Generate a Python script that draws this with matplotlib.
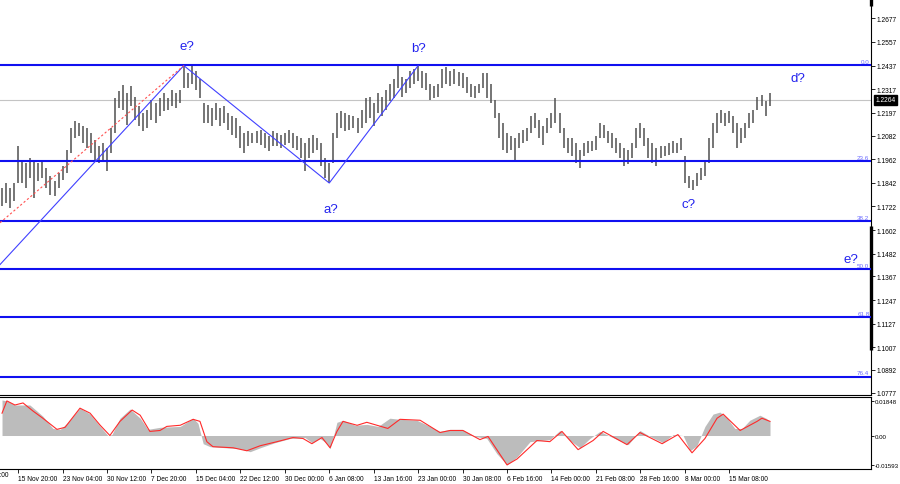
import numpy as np
import matplotlib
matplotlib.use("Agg")
import matplotlib.pyplot as plt

# H4 bars, high / low
bar_high = [1.1816, 1.1841, 1.1816, 1.1841, 1.2028, 1.1952, 1.1942, 1.1967, 1.1957, 1.1942,
            1.1952, 1.1917, 1.1876, 1.1851, 1.1892, 1.1927, 1.2008, 1.2119, 1.2154, 1.2144,
            1.2129, 1.2119, 1.2094, 1.2058, 1.2028, 1.2043, 1.2018, 1.2119, 1.2270, 1.2306,
            1.2336, 1.2296, 1.2331, 1.2280, 1.2230, 1.2195, 1.2210, 1.2260, 1.2245, 1.2270,
            1.2296, 1.2270, 1.2311, 1.2296, 1.2311, 1.2437, 1.2397, 1.2437, 1.2412, 1.2371,
            1.2245, 1.2235, 1.2220, 1.2245, 1.2220, 1.2230, 1.2195, 1.2179, 1.2169, 1.2129,
            1.2094, 1.2104, 1.2094, 1.2104, 1.2109, 1.2094, 1.2078, 1.2104, 1.2094, 1.2083,
            1.2094, 1.2109, 1.2094, 1.2078, 1.2068, 1.2043, 1.2068, 1.2083, 1.2068, 1.2043,
            1.1967, 1.1942, 1.2094, 1.2195, 1.2205, 1.2195, 1.2185, 1.2179, 1.2169, 1.2210,
            1.2270, 1.2280, 1.2245, 1.2296, 1.2280, 1.2311, 1.2346, 1.2371, 1.2437, 1.2381,
            1.2371, 1.2412, 1.2422, 1.2437, 1.2412, 1.2397, 1.2346, 1.2331, 1.2346, 1.2422,
            1.2432, 1.2412, 1.2422, 1.2407, 1.2397, 1.2381, 1.2346, 1.2331, 1.2346, 1.2397,
            1.2397, 1.2346, 1.2260, 1.2195, 1.2144, 1.2094, 1.2078, 1.2068, 1.2094, 1.2109,
            1.2119, 1.2179, 1.2195, 1.2159, 1.2129, 1.2169, 1.2195, 1.2270, 1.2195, 1.2119,
            1.2068, 1.2068, 1.2043, 1.2008, 1.2043, 1.2053, 1.2053, 1.2078, 1.2144, 1.2134,
            1.2104, 1.2094, 1.2068, 1.2043, 1.2018, 1.2008, 1.2043, 1.2119, 1.2144, 1.2119,
            1.2068, 1.2043, 1.2018, 1.2028, 1.2028, 1.2043, 1.2053, 1.2043, 1.2068, 1.1977,
            1.1876, 1.1856, 1.1892, 1.1917, 1.1952, 1.2068, 1.2144, 1.2195, 1.2210, 1.2195,
            1.2205, 1.2179, 1.2144, 1.2119, 1.2144, 1.2195, 1.2210, 1.2280, 1.2286, 1.2255,
            1.2296]
bar_low = [1.1725, 1.1740, 1.1715, 1.1750, 1.1841, 1.1841, 1.1816, 1.1866, 1.1765, 1.1851,
           1.1866, 1.1816, 1.1780, 1.1775, 1.1816, 1.1856, 1.1892, 1.1993, 1.2068, 1.2078,
           1.2043, 1.2018, 1.1993, 1.1957, 1.1942, 1.1957, 1.1902, 1.1993, 1.2094, 1.2220,
           1.2210, 1.2134, 1.2230, 1.2159, 1.2129, 1.2104, 1.2119, 1.2159, 1.2144, 1.2179,
           1.2205, 1.2210, 1.2230, 1.2220, 1.2245, 1.2321, 1.2321, 1.2346, 1.2311, 1.2270,
           1.2144, 1.2144, 1.2129, 1.2159, 1.2129, 1.2144, 1.2109, 1.2083, 1.2068, 1.2018,
           1.1993, 1.2028, 1.2043, 1.2043, 1.2033, 1.2018, 1.2003, 1.2028, 1.2028, 1.2018,
           1.2033, 1.2043, 1.2018, 1.2008, 1.1967, 1.1902, 1.1967, 1.1993, 1.2008, 1.1927,
           1.1866, 1.1841, 1.1942, 1.2068, 1.2119, 1.2104, 1.2109, 1.2119, 1.2094, 1.2119,
           1.2144, 1.2169, 1.2129, 1.2195, 1.2179, 1.2210, 1.2255, 1.2270, 1.2321, 1.2280,
           1.2296, 1.2321, 1.2346, 1.2361, 1.2321, 1.2311, 1.2260, 1.2270, 1.2280, 1.2321,
           1.2346, 1.2331, 1.2346, 1.2331, 1.2321, 1.2296, 1.2280, 1.2270, 1.2296, 1.2321,
           1.2270, 1.2245, 1.2169, 1.2068, 1.2008, 1.1993, 1.2008, 1.1957, 1.2018, 1.2043,
           1.2053, 1.2094, 1.2119, 1.2068, 1.2033, 1.2094, 1.2119, 1.2144, 1.2094, 1.2018,
           1.1993, 1.1977, 1.1942, 1.1917, 1.1977, 1.1993, 1.2003, 1.2008, 1.2068, 1.2068,
           1.2043, 1.2018, 1.1993, 1.1967, 1.1927, 1.1937, 1.1967, 1.2018, 1.2068, 1.2028,
           1.1967, 1.1942, 1.1927, 1.1967, 1.1977, 1.1982, 1.1993, 1.1993, 1.2008, 1.1841,
           1.1816, 1.1806, 1.1826, 1.1856, 1.1876, 1.1942, 1.2018, 1.2094, 1.2144, 1.2129,
           1.2144, 1.2094, 1.2018, 1.2043, 1.2068, 1.2119, 1.2144, 1.2210, 1.2230, 1.2179,
           1.2230]

price_ticks = [1.2677, 1.2557, 1.2437, 1.2317, 1.2197, 1.2082, 1.1962, 1.1842, 1.1722,
               1.1602, 1.1482, 1.1367, 1.1247, 1.1127, 1.1007, 1.0892, 1.0777]
last_price = 1.2264

fib_top = 1.2440
fib_bottom = 1.0370
fib_levels = [0.0, 23.6, 38.2, 50.0, 61.8, 76.4]

# wave lines: start, e, a, b
wave_x = [-0.5, 45, 81, 103]
wave_y = [1.1427, 1.2437, 1.1841, 1.2437]
channel_x = [-0.5, 45]
channel_y = [1.1639, 1.2437]

time_labels = ["8 Nov 12:00", "15 Nov 20:00", "23 Nov 04:00", "30 Nov 12:00", "7 Dec 20:00",
               "15 Dec 04:00", "22 Dec 12:00", "30 Dec 00:00", "6 Jan 08:00", "13 Jan 16:00",
               "23 Jan 00:00", "30 Jan 08:00", "6 Feb 16:00", "14 Feb 00:00", "21 Feb 08:00",
               "28 Feb 16:00", "8 Mar 00:00", "15 Mar 08:00"]

# MACD histogram and signal
hist_x = [0, 1.2, 3.2, 6.9, 10.1, 12.6, 14.4, 16.1, 19.3, 21.8, 24.3, 26.2, 27.2, 29.2, 31.7,
          34.2, 36.1, 39.1, 44.1, 47.3, 48.5, 49.8, 51.5, 58.9, 61.4, 63.9, 67.6, 71.3, 75.0,
          76.7, 78.7, 80.2, 81.2, 81.9, 82.9, 84.4, 87.4, 90.3, 93.1, 96.0, 98.5, 102.7, 105.9,
          108.4, 110.9, 113.9, 117.1, 120.0, 122.5, 125.0, 127.5, 130.7, 133.2, 135.6, 138.1,
          140.6, 143.1, 145.5, 148.0, 151.7, 155.0, 157.9, 160.4, 163.6, 166.1, 168.6, 170.3,
          172.0, 174.0, 176.0, 177.7, 179.5, 181.4, 183.2, 185.1, 187.6, 189.1, 190.1]
hist_v = [0.0191, 0.0186, 0.0164, 0.0164, 0.0104, 0.0038, 0.0033, 0.0066, 0.0147, 0.0115,
          0.0049, 0.0, 0.0005, 0.0093, 0.0142, 0.0093, 0.0033, 0.0044, 0.0049, 0.0093, 0.0066,
          -0.0044, -0.0060, -0.0071, -0.0087, -0.0066, -0.0038, -0.0016, -0.0011, -0.0038,
          -0.0016, -0.0038, -0.0071, -0.0016, 0.0071, 0.0082, 0.0055, 0.0060, 0.0049, 0.0093,
          0.0087, 0.0082, 0.0049, 0.0022, 0.0033, 0.0033, -0.0005, -0.0016, -0.0098, -0.0158,
          -0.0115, -0.0033, -0.0027, -0.0022, 0.0027, -0.0027, -0.0066, -0.0016, 0.0022,
          -0.0016, -0.0049, 0.0027, -0.0005, -0.0038, 0.0005, 0.0, -0.0082, -0.0055, 0.0049,
          0.0115, 0.0126, 0.0093, 0.0038, 0.0038, 0.0082, 0.0109, 0.0093, 0.0076]
sig_x = [0, 1.2, 3.2, 5.2, 7.7, 10.1, 13.6, 15.6, 19.3, 21.8, 24.3, 26.7, 29.2, 32.2, 34.2,
         36.6, 39.1, 40.8, 44.1, 47.3, 49.0, 50.7, 52.2, 57.2, 60.6, 63.9, 68.1, 72.0, 74.5,
         76.7, 79.2, 81.2, 82.9, 84.4, 87.9, 90.3, 95.5, 98.5, 103.5, 108.4, 110.9, 114.1,
         118.3, 120.3, 125.0, 127.5, 132.4, 135.6, 138.6, 142.6, 146.3, 148.8, 154.7, 157.9,
         163.4, 167.3, 170.8, 174.0, 177.0, 178.5, 182.7, 186.9, 188.1, 190.1]
sig_v = [0.0120, 0.0186, 0.0164, 0.0175, 0.0131, 0.0093, 0.0033, 0.0044, 0.0147, 0.0120,
         0.0055, 0.0, 0.0076, 0.0137, 0.0109, 0.0022, 0.0027, 0.0049, 0.0055, 0.0087, 0.0076,
         -0.0033, -0.0060, -0.0066, -0.0082, -0.0055, -0.0033, -0.0011, -0.0016, -0.0044,
         -0.0011, -0.0066, 0.0022, 0.0076, 0.0055, 0.0071, 0.0038, 0.0087, 0.0082, 0.0016,
         0.0027, 0.0027, -0.0022, -0.0005, -0.0158, -0.0126, -0.0027, -0.0033, 0.0022,
         -0.0076, -0.0027, 0.0022, -0.0049, 0.0016, -0.0044, 0.0005, -0.0093, -0.0016,
         0.0093, 0.0115, 0.0027, 0.0076, 0.0093, 0.0076]
macd_ticks = [0.01848, 0.0, -0.01593]
macd_tick_labels = ["0.01848", "0.00", "-0.01593"]

plt.rcParams['font.family'] = ['Liberation Sans', 'DejaVu Sans']
fig = plt.figure(figsize=(9, 4.85), dpi=100)
ax = fig.add_axes([0, 1 - 396 / 485, 871 / 900, 396 / 485])
axm = fig.add_axes([0, 1 - 470 / 485, 871 / 900, 72 / 485])

xmin, xmax = -0.5, 215.1
blue = '#1010f0'

# price bars
idx = np.arange(len(bar_high))
ax.vlines(idx, bar_low, bar_high, color='#505050', lw=1.1)

# fib levels
for lev in fib_levels:
    p = fib_top - (fib_top - fib_bottom) * lev / 100
    ax.axhline(p, color=blue, lw=1.5, zorder=3)
    ax.text(xmax - 0.4, p + 0.0006, f"{lev:.1f}", color='#6a6aff', fontsize=4.5,
            ha='right', va='bottom')

ax.axhline(last_price, color='#c4c4c4', lw=0.8, zorder=1)
ax.plot(wave_x, wave_y, color='#4040ff', lw=0.8, zorder=4)
ax.plot(channel_x, channel_y, color='#ff5050', lw=0.8, ls=(0, (2, 2)), zorder=4)

lab_kw = dict(color='#2222ee', fontsize=9.5, ha='center', va='center')
ax.text(45.8, 1.2538, "e?", **lab_kw)
ax.text(103, 1.2528, "b?", **lab_kw)
ax.text(81.4, 1.1710, "a?", **lab_kw)
ax.text(170, 1.1735, "c?", **lab_kw)
ax.text(197, 1.2376, "d?", **lab_kw)
ax.text(210.1, 1.1457, "e?", **lab_kw)

ax.set_xlim(xmin, xmax)
ax.set_ylim(1.0765, 1.2775)
ax.yaxis.tick_right()
ax.set_yticks(price_ticks)
ax.set_yticklabels([f"{t:.4f}" for t in price_ticks])
ax.tick_params(axis='y', labelsize=4.8, length=3, pad=1.2, width=0.6)
ax.set_xticks([])
for s in ['left', 'top']:
    ax.spines[s].set_visible(False)
for s in ['right', 'bottom']:
    ax.spines[s].set_linewidth(0.8)

# thick black marks on the price scale
ax.plot([1, 1], [1.0993, 1.1624], transform=ax.get_yaxis_transform(), color='black',
        lw=2.4, clip_on=False, solid_capstyle='butt')
ax.plot([1, 1], [1.2740, 1.2775], transform=ax.get_yaxis_transform(), color='black',
        lw=2.4, clip_on=False, solid_capstyle='butt')

ax.annotate(f"{last_price:.4f}", xy=(1, last_price), xycoords=('axes fraction', 'data'),
            xytext=(3, 0), textcoords='offset points', fontsize=4.8, color='white',
            ha='left', va='center',
            bbox=dict(boxstyle='square,pad=0.25', fc='black', ec='black'))

# indicator
axm.fill_between(hist_x, 0, hist_v, color='#bcbcbc', lw=0)
axm.plot(sig_x, sig_v, color='#ff2a2a', lw=0.8)
axm.set_xlim(xmin, xmax)
axm.set_ylim(-0.0180, 0.0207)
axm.yaxis.tick_right()
axm.set_yticks(macd_ticks)
axm.set_yticklabels(macd_tick_labels)
axm.tick_params(axis='y', labelsize=4.4, length=2, pad=0.8, width=0.6)
tick_pos = [4 + 11 * (k - 1) for k in range(len(time_labels))]
axm.set_xticks(tick_pos[1:])
axm.set_xticklabels(time_labels[1:], ha='left')
axm.tick_params(axis='x', labelsize=4.8, length=3, pad=1.5, width=0.6)
axm.text(tick_pos[0] - 0.2, -0.0192, time_labels[0], fontsize=4.8, ha='left', va='top',
         clip_on=False)
axm.spines['left'].set_visible(False)
for s in ['right', 'bottom', 'top']:
    axm.spines[s].set_linewidth(0.8)

fig.savefig("out.png", dpi=100)
